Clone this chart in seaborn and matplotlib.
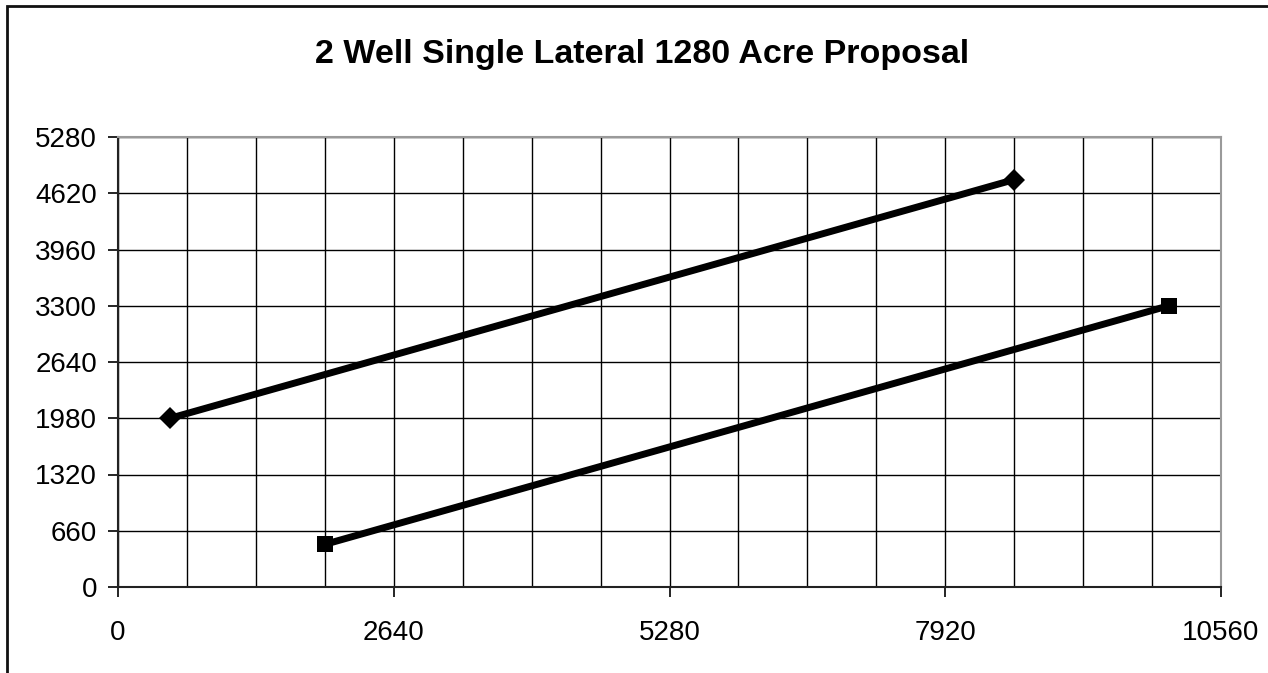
import matplotlib
matplotlib.use("Agg")
import matplotlib.pyplot as plt
from matplotlib.patches import Rectangle
from matplotlib.ticker import MultipleLocator
import seaborn as sns
import pandas as pd

# Well lateral endpoints (feet)
well_names = ["Well 1", "Well 2"]
well1_x = [500, 8580]
well1_y = [1980, 4780]
well2_x = [1980, 10060]
well2_y = [500, 3300]

x_ticks = [0, 2640, 5280, 7920, 10560]
y_ticks = [0, 660, 1320, 1980, 2640, 3300, 3960, 4620, 5280]
title = "2 Well Single Lateral 1280 Acre Proposal"

df = pd.DataFrame({
    "x": well1_x + well2_x,
    "y": well1_y + well2_y,
    "well": [well_names[0]] * len(well1_x) + [well_names[1]] * len(well2_x),
})

sns.set_theme(style="white")
plt.rcParams["font.family"] = ["Liberation Sans", "DejaVu Sans"]

fig = plt.figure(figsize=(12.68, 6.73), dpi=100)
ax = fig.add_axes([118 / 1268, 1 - 587 / 673, 1103 / 1268, 450 / 673])

sns.lineplot(
    data=df, x="x", y="y", hue="well", style="well",
    palette=["black", "black"], markers={"Well 1": "D", "Well 2": "s"},
    dashes=False, linewidth=5, markersize=11, markeredgewidth=0,
    sort=False, legend=False, ax=ax, zorder=5,
)

ax.set_xlim(x_ticks[0], x_ticks[-1])
ax.set_ylim(y_ticks[0], y_ticks[-1])
ax.set_xticks(x_ticks)
ax.set_yticks(y_ticks)
ax.xaxis.set_minor_locator(MultipleLocator(660))
ax.set_xticklabels([str(v) for v in x_ticks])
ax.set_yticklabels([str(v) for v in y_ticks])
ax.set_xlabel("")
ax.set_ylabel("")

# grid every 660 ft in both directions
ax.grid(True, which="both", axis="x", color="black", linewidth=1.0)
ax.grid(True, which="major", axis="y", color="black", linewidth=1.0)
ax.set_axisbelow(True)

ax.tick_params(axis="both", which="major", labelsize=20, colors="black",
               length=7, width=1.2, direction="out")
ax.tick_params(axis="x", which="minor", length=0)
ax.tick_params(axis="x", which="major", pad=17, bottom=True)
ax.tick_params(axis="y", which="major", pad=8, left=True)

for side in ["left", "bottom"]:
    ax.spines[side].set_color("#222222")
    ax.spines[side].set_linewidth(1.5)
for side in ["top", "right"]:
    ax.spines[side].set_color("#9a9a9a")
    ax.spines[side].set_linewidth(1.5)

fig.text(0.506, 1 - 54 / 673, title, ha="center", va="center",
         fontsize=24.5, fontweight="bold", color="black")

# outer chart frame
fig.patches.append(Rectangle((7 / 1268, -0.02), 1.1, 1 - 6 / 673 + 0.02,
                             transform=fig.transFigure, fill=False,
                             edgecolor="#111111", linewidth=2, zorder=0))

fig.savefig("out.png", dpi=100, facecolor="white")
